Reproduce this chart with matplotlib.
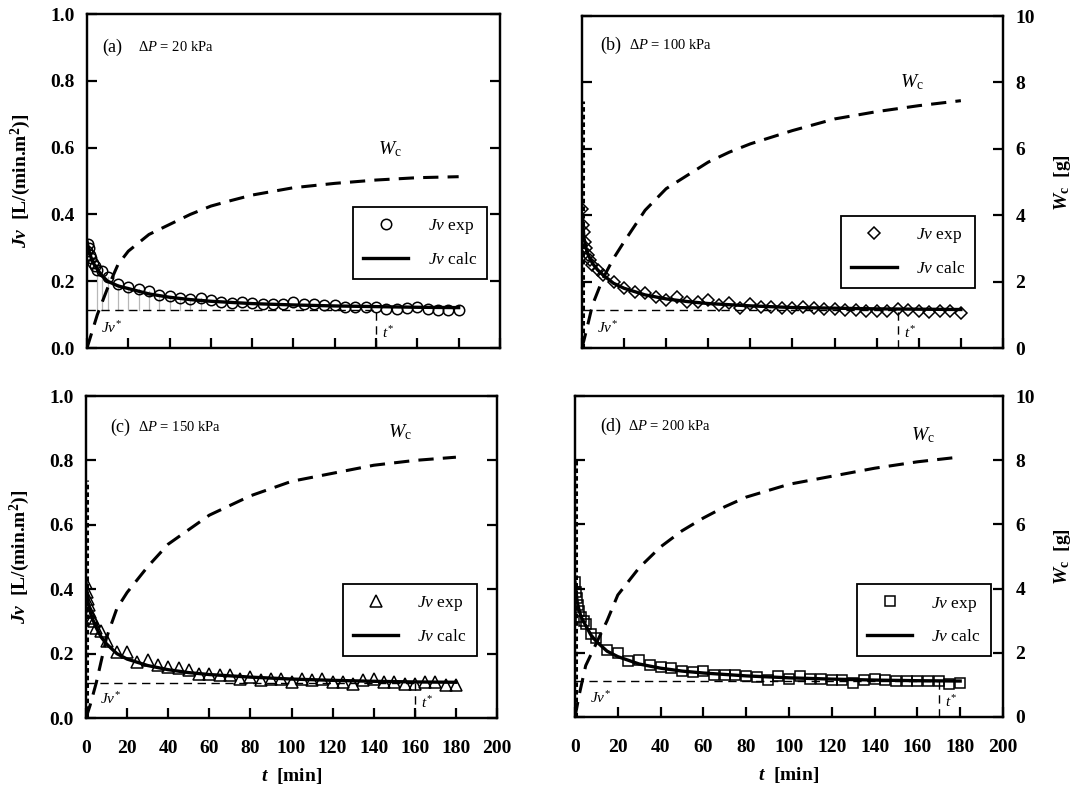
import matplotlib
matplotlib.use("Agg")
import matplotlib.pyplot as plt
from matplotlib.lines import Line2D

plt.rcParams["font.family"] = ["Liberation Serif", "DejaVu Serif"]
plt.rcParams["mathtext.fontset"] = "custom"
plt.rcParams["mathtext.rm"] = "Liberation Serif"
plt.rcParams["mathtext.it"] = "Liberation Serif:italic"
plt.rcParams["mathtext.bf"] = "Liberation Serif:bold"
plt.rcParams["mathtext.bfit"] = "Liberation Serif:bold:italic"

# time grids [min]
t_exp = [0, 0.5, 1, 1.5, 2, 3, 4, 5, 7.5] + list(range(10, 185, 5))
t_calc = [0, 1, 2, 3, 5, 7.5, 10, 15, 20, 30, 40, 50, 60, 80, 100, 120, 140, 160, 180]
t_wc = [0, 2, 5, 10, 15, 20, 30, 40, 50, 60, 70, 80, 100, 120, 140, 160, 180]

panels = ["(a)", "(b)", "(c)", "(d)"]
pressures = ["20", "100", "150", "200"]
markers = ["o", "D", "^", "s"]
marker_sizes = [7.5, 6.5, 8, 7.5]

jv_exp_a = [0.29, 0.31, 0.30, 0.28, 0.27, 0.255, 0.245, 0.235, 0.23,
            0.213, 0.193, 0.183, 0.178, 0.171, 0.158, 0.155, 0.151, 0.148, 0.15,
            0.143, 0.138, 0.135, 0.138, 0.135, 0.131, 0.131, 0.133, 0.138, 0.133,
            0.133, 0.128, 0.128, 0.123, 0.123, 0.123, 0.123, 0.118, 0.118, 0.121,
            0.123, 0.118, 0.115, 0.113, 0.113]
jv_exp_b = [0.42, 0.37, 0.35, 0.32, 0.30, 0.28, 0.265, 0.25, 0.235,
            0.22, 0.2, 0.18, 0.17, 0.165, 0.155, 0.145, 0.155, 0.14, 0.14,
            0.145, 0.13, 0.135, 0.12, 0.133, 0.125, 0.123, 0.12, 0.12, 0.123,
            0.12, 0.117, 0.117, 0.115, 0.115, 0.113, 0.113, 0.113, 0.117, 0.115,
            0.113, 0.11, 0.113, 0.113, 0.105]
jv_exp_c = [0.42, 0.39, 0.37, 0.35, 0.33, 0.31, 0.30, 0.28, 0.27,
            0.24, 0.205, 0.205, 0.175, 0.18, 0.165, 0.158, 0.156, 0.148, 0.138,
            0.138, 0.133, 0.133, 0.122, 0.127, 0.117, 0.122, 0.122, 0.112, 0.122,
            0.117, 0.122, 0.112, 0.112, 0.107, 0.117, 0.122, 0.112, 0.112, 0.107,
            0.107, 0.112, 0.112, 0.101, 0.101]
jv_exp_d = [0.42, 0.39, 0.37, 0.35, 0.33, 0.31, 0.30, 0.29, 0.26,
            0.245, 0.21, 0.2, 0.173, 0.176, 0.163, 0.155, 0.152, 0.142, 0.139,
            0.142, 0.132, 0.132, 0.132, 0.128, 0.126, 0.116, 0.128, 0.119, 0.128,
            0.119, 0.119, 0.116, 0.114, 0.106, 0.116, 0.118, 0.114, 0.111, 0.111,
            0.111, 0.111, 0.111, 0.104, 0.106]

jv_calc_a = [0.32, 0.29, 0.27, 0.255, 0.235, 0.215, 0.2, 0.186, 0.178, 0.162,
             0.152, 0.145, 0.14, 0.133, 0.129, 0.126, 0.124, 0.122, 0.121]
jv_calc_b = [0.40, 0.33, 0.30, 0.28, 0.255, 0.235, 0.22, 0.195, 0.18, 0.16,
             0.148, 0.14, 0.134, 0.127, 0.122, 0.12, 0.118, 0.117, 0.116]
jv_calc_c = [0.42, 0.36, 0.33, 0.31, 0.28, 0.25, 0.23, 0.2, 0.183, 0.163,
             0.15, 0.141, 0.135, 0.127, 0.121, 0.117, 0.114, 0.112, 0.111]
jv_calc_d = [0.42, 0.36, 0.33, 0.31, 0.285, 0.255, 0.235, 0.205, 0.188, 0.165,
             0.152, 0.143, 0.137, 0.128, 0.122, 0.118, 0.115, 0.113, 0.112]

wc_a = [0, 0.4, 1.0, 1.8, 2.5, 2.9, 3.4, 3.7, 4.0, 4.25, 4.42, 4.58, 4.8, 4.93, 5.03, 5.1, 5.13]
wc_b = [0, 0.5, 1.3, 2.1, 2.7, 3.2, 4.15, 4.8, 5.2, 5.6, 5.9, 6.15, 6.55, 6.9, 7.12, 7.3, 7.45]
wc_c = [0, 0.4, 1.1, 2.5, 3.4, 3.9, 4.7, 5.4, 5.85, 6.3, 6.6, 6.9, 7.35, 7.6, 7.85, 8.0, 8.1]
wc_d = [0, 0.7, 1.6, 2.3, 3.0, 3.8, 4.65, 5.3, 5.8, 6.2, 6.55, 6.85, 7.25, 7.5, 7.75, 7.95, 8.1]

jv_star = [0.115, 0.115, 0.11, 0.111]
t_star = [140, 150, 160, 170]
spike_top = [None, 0.745, 0.74, 0.80]   # steep early rise drawn at t ~ 0
wc_label_pos = [(141, 0.565), (151, 0.77), (147, 0.857), (157, 0.847)]

jv_exp = [jv_exp_a, jv_exp_b, jv_exp_c, jv_exp_d]
jv_calc = [jv_calc_a, jv_calc_b, jv_calc_c, jv_calc_d]
wc = [wc_a, wc_b, wc_c, wc_d]

fig = plt.figure(figsize=(10.89, 8.01), dpi=100)
rects = [[0.0799, 0.5655, 0.3792, 0.417],
         [0.5344, 0.5655, 0.3866, 0.4145],
         [0.0790, 0.1036, 0.3774, 0.402],
         [0.5280, 0.1049, 0.3930, 0.4007]]
# upper-right corner of each legend box (axes fraction)
legend_corner = [(0.969, 0.422), (0.934, 0.398), (0.951, 0.416), (0.972, 0.414)]
label_x = [(0.036, 0.124), (0.043, 0.112), (0.058, 0.127), (0.058, 0.124)]
label_y = [0.90, 0.913, 0.904, 0.907]

for i in range(4):
    ax = fig.add_axes(rects[i])
    ax2 = ax.twinx()
    ax.set_xlim(0, 200)
    ax.set_ylim(0, 1.0)
    ax2.set_ylim(0, 10)

    # Jv* and t* guides
    ax.plot([0, t_star[i]], [jv_star[i], jv_star[i]], color="black", lw=1.0,
            dashes=(6, 4))
    ax.plot([t_star[i], t_star[i]], [0, jv_star[i]], color="black", lw=1.0,
            dashes=(6, 4))
    if i == 0:
        for tt, v in zip(t_exp, jv_exp[i]):
            if 5 <= tt <= 55:
                ax.plot([tt, tt], [jv_star[i], v], color="0.72", lw=0.9, zorder=1)
    if spike_top[i] is not None:
        ax.plot([0.6, 0.6], [0, spike_top[i]], color="black", lw=2.2,
                dashes=(1.5, 1.0))

    ax.plot(t_exp, jv_exp[i], ls="none", marker=markers[i], ms=marker_sizes[i],
            mfc="none", mec="black", mew=1.1, zorder=3)
    ax.plot(t_calc, jv_calc[i], color="black", lw=2.4, zorder=4)
    ax2.plot(t_wc, wc[i], color="black", lw=2.2, dashes=(5, 3))

    ax.text(wc_label_pos[i][0], wc_label_pos[i][1], r"$\mathit{W}_{\mathrm{c}}$",
            fontsize=14, ha="left", va="bottom")
    ax.text(7, 0.06, r"$\mathit{Jv}^{*}$", fontsize=11, ha="left", va="center")
    ax.text(t_star[i] + 3, 0.045, r"$\mathit{t}^{*}$", fontsize=11, ha="left",
            va="center")
    ax.text(label_x[i][0], label_y[i], panels[i], transform=ax.transAxes,
            fontsize=13, ha="left", va="center")
    ax.text(label_x[i][1], label_y[i], "Δ$\\mathit{P}$ = " + pressures[i] + " kPa",
            transform=ax.transAxes, fontsize=10.5, ha="left", va="center")

    handles = [Line2D([], [], ls="none", marker=markers[i], ms=marker_sizes[i],
                      mfc="none", mec="black", mew=1.1),
               Line2D([], [], color="black", lw=2.4)]
    leg = ax.legend(handles, [r"$\mathit{Jv}$ exp", r"$\mathit{Jv}$ calc"],
                    loc="upper right", bbox_to_anchor=legend_corner[i],
                    borderaxespad=0, fancybox=False, edgecolor="black",
                    framealpha=1, fontsize=12.5, handlelength=2.6,
                    handletextpad=1.1, borderpad=0.6, labelspacing=0.9)
    leg.get_frame().set_linewidth(1.3)
    leg.set_zorder(5)

    for a in (ax, ax2):
        for s in a.spines.values():
            s.set_linewidth(1.6)
    ax.set_xticks(range(0, 201, 20))
    ax.set_yticks([0, 0.2, 0.4, 0.6, 0.8, 1.0])
    ax2.set_yticks([0, 2, 4, 6, 8, 10])
    ax.tick_params(direction="in", length=7, width=1.6, labelsize=14)
    ax2.tick_params(direction="in", length=7, width=1.6, labelsize=14, pad=9)
    ax.tick_params(axis="x", pad=16)
    ax.tick_params(axis="y", pad=9)
    ax.set_yticklabels(["0.0", "0.2", "0.4", "0.6", "0.8", "1.0"], fontweight="bold")
    ax2.set_yticklabels(["0", "2", "4", "6", "8", "10"], fontweight="bold")
    ax.set_xticklabels([str(v) for v in range(0, 201, 20)], fontweight="bold")
    if i < 2:
        ax.tick_params(axis="x", labelbottom=False)
    if i % 2 == 0:
        ax2.tick_params(axis="y", labelright=False)
        ax.set_ylabel(r"$\mathbfit{Jv}$  [L/(min.m$^{\mathbf{2}}$)]", fontsize=14,
                      fontweight="bold", labelpad=12)
    else:
        ax.tick_params(axis="y", labelleft=False)
        ax2.set_ylabel(r"$\mathbfit{W}_{\mathbf{c}}$  [g]", fontsize=14,
                       fontweight="bold", labelpad=12)
    if i >= 2:
        ax.set_xlabel(r"$\mathbfit{t}$  [min]", fontsize=14, fontweight="bold",
                      labelpad=6)

fig.savefig("out.png", dpi=100)
